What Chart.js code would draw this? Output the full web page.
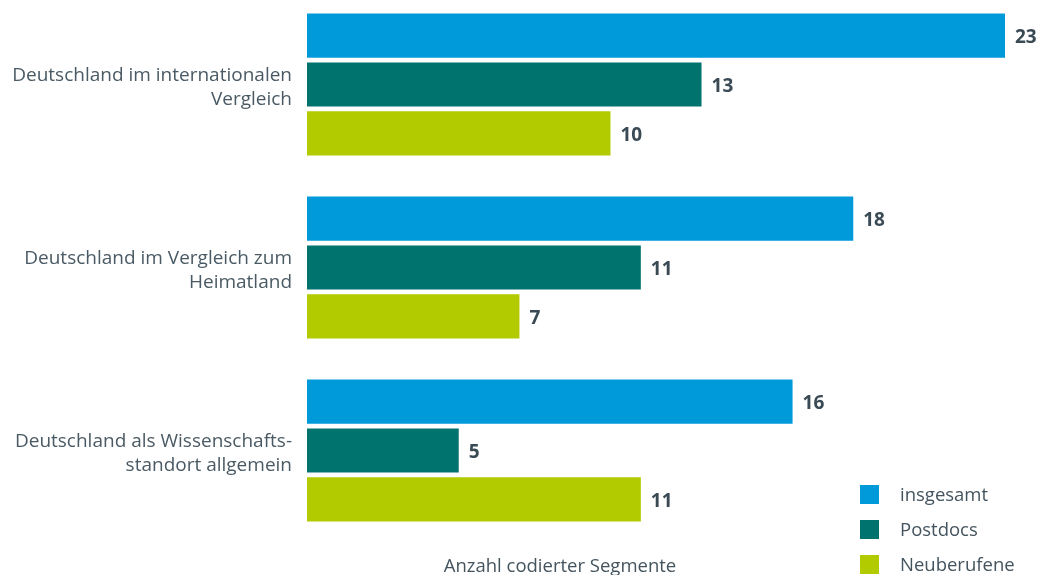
<!DOCTYPE html>
<html>
<head>
<meta charset="utf-8">
<script src="https://cdn.jsdelivr.net/npm/chart.js@4.4.0/dist/chart.umd.min.js"></script>
<style>
  html, body { margin: 0; padding: 0; background: #ffffff; overflow: hidden; }
  #wrap { position: relative; width: 1041px; height: 575px; overflow: hidden; }
  #c { position: absolute; left: 0; top: -7px; }
  .lg { position: absolute; left: 860px; font-family: "Open Sans", sans-serif; font-size: 18.5px; color: #44545e; }
  .lg span.sw { position: absolute; left: 0; width: 19px; height: 19px; }
  .lg span.tx { position: absolute; left: 40px; top: -3px; white-space: nowrap; line-height: 24px; }
  #xt { position: absolute; left: 360px; width: 400px; top: 553px; text-align: center; font-family: "Open Sans", sans-serif; font-size: 18.5px; line-height: 24px; color: #44545e; }
</style>
</head>
<body>
<div id="wrap">
  <canvas id="c" width="1041" height="560" style="width:1041px;height:560px"></canvas>
  <div id="legend"></div>
  <div id="xt">Anzahl codierter Segmente</div>
</div>
<script>
const categories = [
  ["Deutschland im internationalen", "Vergleich"],
  ["Deutschland im Vergleich zum", "Heimatland"],
  ["Deutschland als Wissenschafts-", "standort allgemein"]
];
const seriesNames = ["insgesamt", "Postdocs", "Neuberufene"];
const insgesamt = [23, 18, 16];
const postdocs = [13, 11, 5];
const neuberufene = [10, 7, 11];
const colors = ["#0099da", "#00736f", "#b2ca00"];

const legendEl = document.getElementById('legend');
seriesNames.forEach((n, i) => {
  const d = document.createElement('div');
  d.className = 'lg';
  d.style.top = (485 + i * 35) + 'px';
  d.innerHTML = '<span class="sw" style="background:' + colors[i] + '"></span><span class="tx">' + n + '</span>';
  legendEl.appendChild(d);
});

const valueLabels = {
  id: 'valueLabels',
  afterDatasetsDraw(chart) {
    const ctx = chart.ctx;
    ctx.save();
    ctx.font = 'bold 19px "Open Sans", sans-serif';
    ctx.fillStyle = '#3a4a54';
    ctx.textAlign = 'left';
    ctx.textBaseline = 'middle';
    chart.data.datasets.forEach((ds, di) => {
      const meta = chart.getDatasetMeta(di);
      meta.data.forEach((bar, i) => {
        ctx.fillText(String(ds.data[i]), bar.x + 10, bar.y + 2);
      });
    });
    ctx.restore();
  }
};

new Chart(document.getElementById('c'), {
  type: 'bar',
  data: {
    labels: categories,
    datasets: [
      { label: seriesNames[0], data: insgesamt, backgroundColor: colors[0] },
      { label: seriesNames[1], data: postdocs, backgroundColor: colors[1] },
      { label: seriesNames[2], data: neuberufene, backgroundColor: colors[2] }
    ]
  },
  options: {
    indexAxis: 'y',
    responsive: false,
    animation: false,
    devicePixelRatio: 1,
    categoryPercentage: 0.80,
    barPercentage: 0.905,
    layout: { padding: { top: 0, bottom: 11, right: 36, left: 0 } },
    plugins: { legend: { display: false }, tooltip: { enabled: false } },
    scales: {
      x: { display: false, min: 0, max: 23 },
      y: {
        grid: { display: false, drawTicks: false },
        border: { display: false },
        ticks: {
          padding: 15,
          labelOffset: 3,
          color: '#4a5a64',
          font: { family: '"Open Sans", sans-serif', size: 19, lineHeight: 1.263 }
        },
        afterFit(scale) { scale.width = 307; scale.paddingTop = 0; scale.paddingBottom = 0; }
      }
    }
  },
  plugins: [valueLabels]
});
</script>
</body>
</html>
